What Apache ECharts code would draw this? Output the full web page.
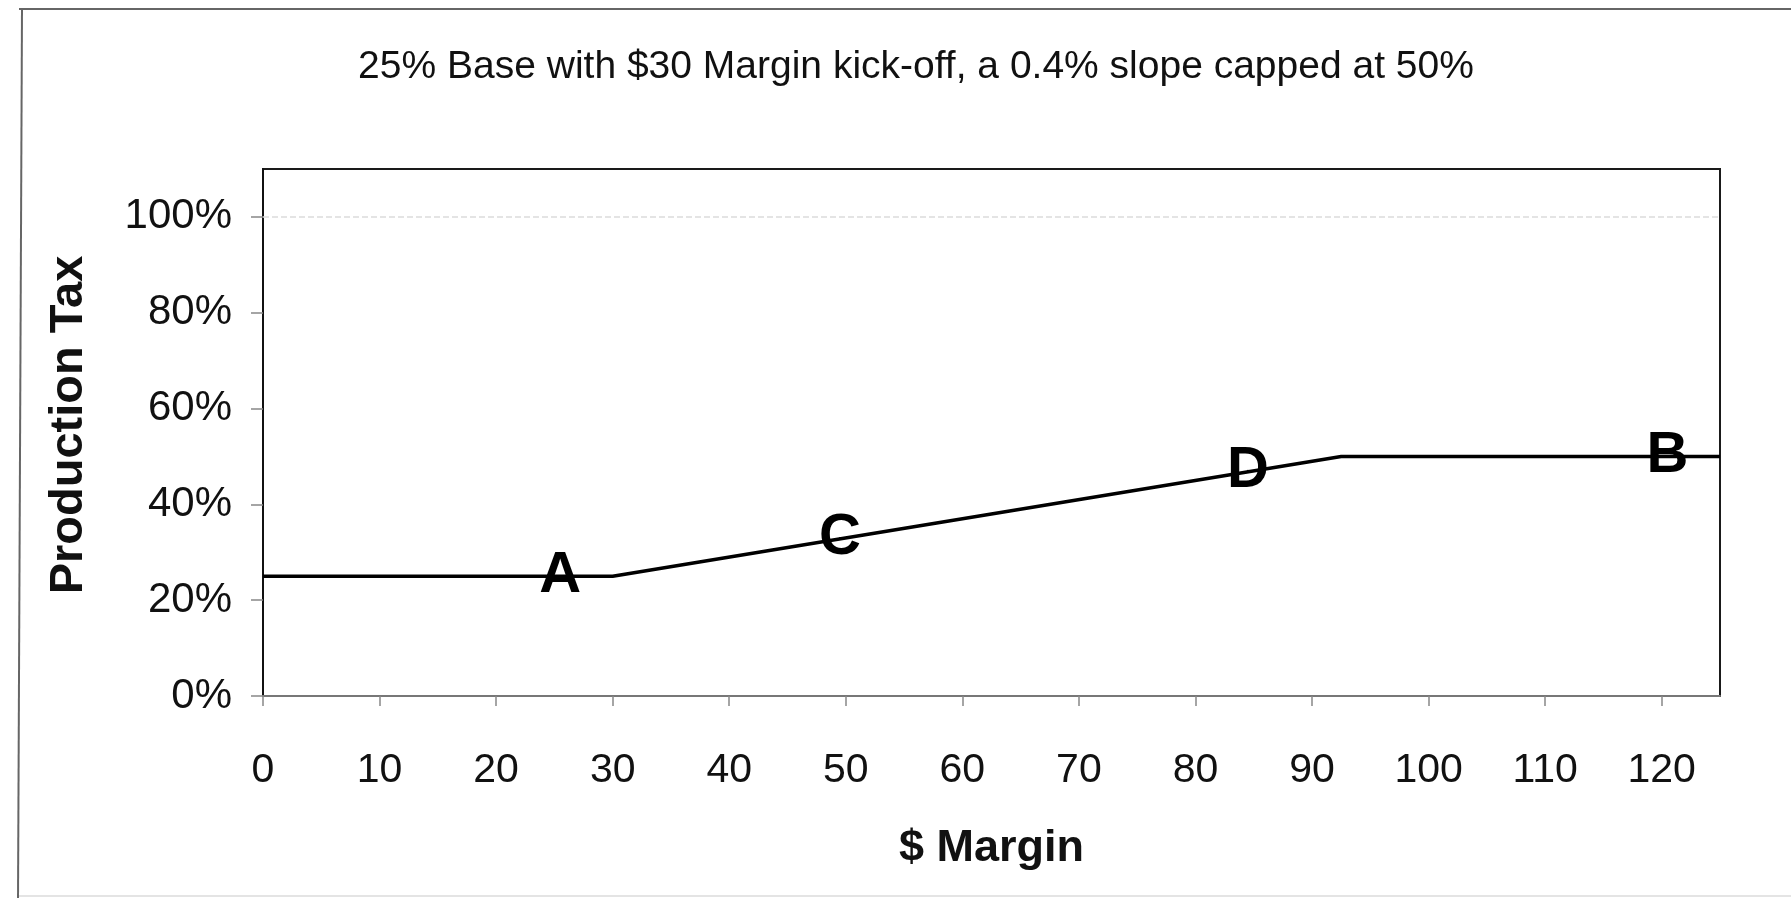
<!DOCTYPE html>
<html>
<head>
<meta charset="utf-8">
<title>Production Tax vs $ Margin</title>
<script src="https://cdn.jsdelivr.net/npm/echarts@6/dist/echarts.min.js"></script>
<style>
  html, body { margin: 0; padding: 0; background: #ffffff; }
  #chart { width: 1791px; height: 898px; }
</style>
</head>
<body>
<div id="chart"></div>
<script>
// Tax schedule: flat base, linear ramp after the kick-off margin, then the cap.
const margins = [0, 30, 92.5, 125];
const taxRates = [0.25, 0.25, 0.50, 0.50];

// Lettered points placed along the schedule.
const pointNames = ['A', 'C', 'D', 'B'];
const pointMargins = [25.5, 49.5, 84.5, 120.5];
const pointRates = [0.25, 0.33, 0.47, 0.50];

// Axis ticks.
const xTicks = [0, 10, 20, 30, 40, 50, 60, 70, 80, 90, 100, 110, 120];
const yTicks = [0, 0.2, 0.4, 0.6, 0.8, 1.0];
const gridLevel = 1.0;

const FONT = '"Liberation Sans", Arial, sans-serif';

const chart = echarts.init(document.getElementById('chart'), null, { renderer: 'canvas' });

chart.setOption({
  backgroundColor: '#ffffff',
  animation: false,
  title: {
    text: '25% Base with $30 Margin kick-off, a 0.4% slope capped at 50%',
    left: 911,
    top: 43,
    textAlign: 'center',
    textStyle: { fontFamily: FONT, fontSize: 39, fontWeight: 'normal', color: '#111' }
  },
  grid: {
    left: 263, top: 169, right: 71, bottom: 202,
    show: true, borderColor: '#1a1a1a', borderWidth: 2, backgroundColor: '#ffffff'
  },
  xAxis: {
    type: 'value',
    min: 0, max: 125, interval: 10,
    name: '$ Margin',
    nameLocation: 'middle',
    nameGap: 130,
    nameTextStyle: { fontFamily: FONT, fontSize: 45, fontWeight: 'bold', color: '#111' },
    axisLine: { show: true, lineStyle: { color: '#777', width: 2 } },
    axisTick: { show: true, inside: false, length: 10, customValues: xTicks, lineStyle: { color: '#888', width: 1.5 } },
    axisLabel: {
      customValues: xTicks,
      margin: 54,
      fontFamily: FONT, fontSize: 41, color: '#111'
    },
    splitLine: { show: false }
  },
  yAxis: {
    type: 'value',
    min: 0, max: 1.1, interval: 0.2,
    axisLine: { show: true, lineStyle: { color: '#111', width: 2 } },
    axisTick: { show: true, inside: false, length: 12, customValues: yTicks, lineStyle: { color: '#888', width: 1.5 } },
    axisLabel: {
      customValues: yTicks,
      margin: 31,
      fontFamily: FONT, fontSize: 42, color: '#111',
      formatter: v => Math.round(v * 100) + '%'
    },
    splitLine: { show: false }
  },
  graphic: [
    // chart-area frame
    { type: 'line', shape: { x1: 19, y1: 9, x2: 1791, y2: 9 }, style: { stroke: '#666', lineWidth: 2 }, silent: true },
    { type: 'line', shape: { x1: 22, y1: 9, x2: 18, y2: 898 }, style: { stroke: '#666', lineWidth: 2 }, silent: true },
    { type: 'line', shape: { x1: 19, y1: 896, x2: 1791, y2: 896 }, style: { stroke: '#e4e4e4', lineWidth: 2 }, silent: true },
    // vertical axis title
    {
      type: 'text',
      x: 69, y: 425,
      rotation: Math.PI / 2,
      silent: true,
      style: {
        text: 'Production Tax',
        fontFamily: FONT, fontSize: 47, fontWeight: 'bold', fill: '#111',
        align: 'center', verticalAlign: 'middle'
      }
    }
  ],
  series: [
    {
      type: 'line',
      data: margins.map((m, i) => [m, taxRates[i]]),
      symbol: 'none',
      lineStyle: { color: '#000', width: 3.5 },
      silent: true,
      z: 3,
      markLine: {
        silent: true,
        symbol: 'none',
        label: { show: false },
        lineStyle: { color: '#dcdcdc', type: 'dashed', width: 1.5 },
        data: [{ yAxis: gridLevel }],
        z: 1
      }
    },
    {
      type: 'scatter',
      data: pointMargins.map((m, i) => ({ value: [m, pointRates[i]], name: pointNames[i] })),
      symbolSize: 2,
      itemStyle: { color: '#000', opacity: 1 },
      silent: true,
      z: 4,
      labelLayout: { hideOverlap: false },
      label: {
        show: true,
        position: 'inside',
        offset: [0, -2],
        formatter: p => p.name,
        opacity: 1,
        textBorderWidth: 0,
        fontFamily: FONT, fontSize: 58, fontWeight: 'bold', color: '#000'
      }
    }
  ]
});
</script>
</body>
</html>
